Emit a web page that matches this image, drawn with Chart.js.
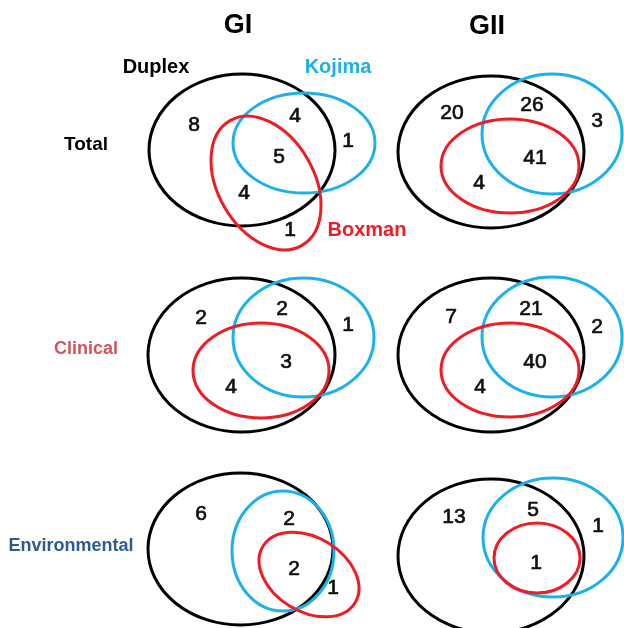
<!DOCTYPE html>
<html>
<head>
<meta charset="utf-8">
<script src="https://cdn.jsdelivr.net/npm/chart.js@4/dist/chart.umd.min.js"></script>
<style>
  html, body { margin: 0; padding: 0; background: #ffffff; }
  #wrap { width: 624px; height: 628px; }
</style>
</head>
<body>
<div id="wrap"><canvas id="venn" width="624" height="628"></canvas></div>
<script>
// ---- data -------------------------------------------------------------
const genogroups = ['GI', 'GII'];
const sampleSets = ['Total', 'Clinical', 'Environmental'];
const methods = ['Duplex', 'Kojima', 'Boxman'];

// number of strains found in each Venn region, one list per panel
const totalGI = [8, 4, 1, 5, 4, 1];
const totalGII = [20, 26, 3, 41, 4];
const clinicalGI = [2, 2, 1, 3, 4];
const clinicalGII = [7, 21, 2, 40, 4];
const environmentalGI = [6, 2, 2, 1];
const environmentalGII = [13, 5, 1, 1];

// ---- layout (scale units, 1 unit = 1 px) ------------------------------
const panels = [
  { counts: totalGI,
    spots: [[194,125],[295,116],[348,141],[279,157],[244,193],[290,230]],
    sets: [[242,150,93,76,0],[304,143,71,50,0],[266,183,72,48,60]] },
  { counts: totalGII,
    spots: [[452,113],[532,105],[597,121],[535,158],[479,183]],
    sets: [[491,152,93,76,0],[552,134,70,60,0],[510,166,69,47,0]] },
  { counts: clinicalGI,
    spots: [[201,318],[282,309],[348,325],[286,362],[231,387]],
    sets: [[241.5,355,93.5,77,0],[303.5,337.5,70.5,59.5,0],[261,370.5,68,47.5,0]] },
  { counts: clinicalGII,
    spots: [[451,317],[531,309],[597,327],[535,362],[480,387]],
    sets: [[491,355,93,77,0],[552,337,70,60,0],[510,370,69,47,0]] },
  { counts: environmentalGI,
    spots: [[201,514],[289,519],[294,569],[333,588]],
    sets: [[240.5,549,92.5,76,0],[283,551,51,60,0],[309,574.5,54,37,31.5]] },
  { counts: environmentalGII,
    spots: [[454,517],[533,510],[598,526],[536,563]],
    sets: [[491,556,93,77,0],[553,537.5,70,59.5,0],[537,558,43,35,0]] }
];

const columnTitlePos = [[238,26],[487,27]];
const methodLabelPos = [[156,67],[338,67],[367,230]];
const rowLabelPos = [[86,145],[86,349],[71,546]];

// ---- styles -------------------------------------------------------------
const methodColors = ['#000000', '#1cb0ec', '#ee1c24'];
const rowColors = ['#000000', '#d5545c', '#2e5b98'];
const FONT = '"Liberation Sans", Arial, Helvetica, sans-serif';

// ---- chart --------------------------------------------------------------
const datasets = panels.map((p, i) => ({
  label: sampleSets[Math.floor(i / 2)] + ' ' + genogroups[i % 2],
  data: p.counts.map((c, j) => ({ x: p.spots[j][0], y: p.spots[j][1], count: c })),
  pointRadius: 0,
  pointHoverRadius: 0,
  showLine: false
}));

const vennPlugin = {
  id: 'vennDiagram',
  afterDatasetsDraw(chart) {
    const { ctx, scales: { x, y } } = chart;
    const px = v => x.getPixelForValue(v);
    const py = v => y.getPixelForValue(v);

    // set outlines
    ctx.save();
    ctx.lineWidth = 3;
    panels.forEach(p => {
      p.sets.forEach((s, k) => {
        const cx = px(s[0]), cy = py(s[1]);
        const rx = Math.abs(px(s[0] + s[2]) - cx);
        const ry = Math.abs(py(s[1] + s[3]) - cy);
        ctx.beginPath();
        ctx.ellipse(cx, cy, rx, ry, s[4] * Math.PI / 180, 0, Math.PI * 2);
        ctx.strokeStyle = methodColors[k];
        ctx.stroke();
      });
    });
    ctx.restore();

    // region counts, placed on each dataset point
    ctx.save();
    ctx.textAlign = 'center';
    ctx.textBaseline = 'middle';
    ctx.fillStyle = '#111111';
    ctx.strokeStyle = '#111111';
    ctx.lineWidth = 0.7;
    ctx.lineJoin = 'round';
    ctx.font = '21px ' + FONT;
    chart.data.datasets.forEach((ds, i) => {
      chart.getDatasetMeta(i).data.forEach((pt, j) => {
        const t = String(ds.data[j].count);
        ctx.fillText(t, pt.x, pt.y);
        ctx.strokeText(t, pt.x, pt.y);
      });
    });

    // column titles
    ctx.fillStyle = '#000000';
    ctx.font = 'bold 27px ' + FONT;
    genogroups.forEach((g, i) => ctx.fillText(g, px(columnTitlePos[i][0]), py(columnTitlePos[i][1])));

    // method names
    ctx.font = 'bold 20px ' + FONT;
    methods.forEach((m, i) => {
      ctx.fillStyle = methodColors[i];
      ctx.fillText(m, px(methodLabelPos[i][0]), py(methodLabelPos[i][1]));
    });

    // sample set names
    sampleSets.forEach((s, i) => {
      ctx.fillStyle = rowColors[i];
      ctx.font = (i === 0 ? 'bold 19px ' : 'bold 18px ') + FONT;
      ctx.fillText(s, px(rowLabelPos[i][0]), py(rowLabelPos[i][1]));
    });
    ctx.restore();
  }
};

new Chart(document.getElementById('venn'), {
  type: 'scatter',
  data: { datasets },
  options: {
    responsive: false,
    animation: false,
    events: [],
    layout: { padding: 0 },
    plugins: { legend: { display: false }, tooltip: { enabled: false } },
    scales: {
      x: { type: 'linear', min: 0, max: 624, display: false },
      y: { type: 'linear', min: 0, max: 628, reverse: true, display: false }
    }
  },
  plugins: [vennPlugin]
});
</script>
</body>
</html>
